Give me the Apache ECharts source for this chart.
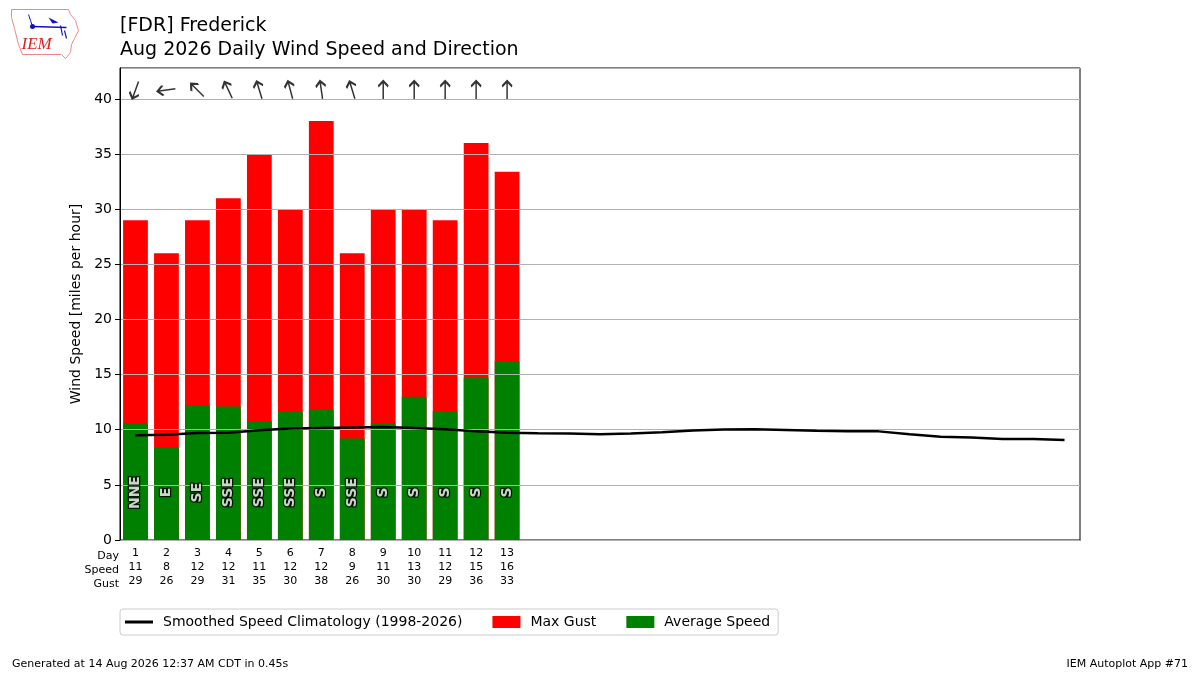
<!DOCTYPE html>
<html>
<head>
<meta charset="utf-8">
<script src="https://cdn.jsdelivr.net/npm/echarts@6/dist/echarts.min.js"></script>
<style>
  html, body { margin: 0; padding: 0; background: #fff; }
  #main { width: 1200px; height: 675px; }
</style>
</head>
<body>
<div id="main"></div>
<script>
// daily obs for Aug 2026 (days 1..13 so far)
var days = [];
for (var d = 1; d <= 31; d++) days.push(d);
var avgSpeed = [10.6, 8.4, 12.2, 12.1, 10.8, 11.6, 11.8, 9.2, 10.6, 13.0, 11.7, 14.7, 16.2];
var maxGust = [29, 26, 29, 31, 35, 30, 38, 26, 30, 30, 29, 36, 33.4];
var speedLbl = [11, 8, 12, 12, 11, 12, 12, 9, 11, 13, 12, 15, 16];
var gustLbl = [29, 26, 29, 31, 35, 30, 38, 26, 30, 30, 29, 36, 33];
var dirDeg = [20, 82, 135, 155, 163, 165, 172, 163, 180, 180, 180, 180, 180];
var dirText = ['NNE', 'E', 'SE', 'SSE', 'SSE', 'SSE', 'S', 'SSE', 'S', 'S', 'S', 'S', 'S'];
// smoothed climatology, one value per day of month
var climo = [9.5, 9.55, 9.7, 9.73, 9.95, 10.1, 10.15, 10.2, 10.25, 10.15, 10.05, 9.85, 9.73,
  9.68, 9.65, 9.6, 9.65, 9.78, 9.92, 10.02, 10.05, 9.98, 9.9, 9.86, 9.85,
  9.6, 9.37, 9.3, 9.16, 9.16, 9.07];

var arrowY = 40.8;
var labelY = 4.3;
var font = 'DejaVu Sans';

var chart = echarts.init(document.getElementById('main'));

var xLabels = days.map(function (d, i) {
  if (i >= speedLbl.length) return '';
  return d + '\n' + speedLbl[i] + '\n' + gustLbl[i];
});

var climoName = 'Smoothed Speed Climatology (1998-2026)';

var option = {
  backgroundColor: '#ffffff',
  animation: false,
  textStyle: { fontFamily: font },
  title: {
    text: '[FDR] Frederick\nAug 2026 Daily Wind Speed and Direction',
    left: 115,
    top: 9,
    textStyle: { fontSize: 19, fontWeight: 'normal', color: '#000', lineHeight: 24, fontFamily: font }
  },
  grid: {
    left: 120, right: 120, top: 68, bottom: 135,
    show: true, borderColor: '#000', borderWidth: 1
  },
  legend: {
    left: 120,
    top: 609,
    data: [
      { name: climoName, icon: 'path://M0,0 L28,0 L28,3 L0,3 Z' },
      { name: 'Max Gust', icon: 'rect' },
      { name: 'Average Speed', icon: 'rect' }
    ],
    itemWidth: 28,
    itemHeight: 12,
    itemGap: 30,
    borderColor: '#ccc',
    borderWidth: 1,
    borderRadius: 3,
    padding: [6, 8, 6, 5],
    textStyle: { fontSize: 14, color: '#000', fontFamily: font, padding: [0, 0, 0, 5] }
  },
  xAxis: {
    type: 'category',
    data: xLabels,
    boundaryGap: true,
    axisLine: { lineStyle: { color: '#000' } },
    axisTick: {
      alignWithLabel: true,
      interval: function (i) { return i < speedLbl.length; },
      lineStyle: { color: '#000' }
    },
    axisLabel: { interval: 0, fontSize: 11, lineHeight: 14, color: '#000', margin: 6 },
    splitLine: { show: false }
  },
  yAxis: {
    type: 'value',
    min: 0,
    max: 42.8,
    interval: 5,
    z: 4,
    name: 'Wind Speed [miles per hour]',
    nameLocation: 'middle',
    nameGap: 20,
    nameTextStyle: { fontSize: 14, color: '#000' },
    axisLine: { show: true, lineStyle: { color: '#000' } },
    axisTick: { show: true, lineStyle: { color: '#000' } },
    axisLabel: { fontSize: 14, color: '#000', showMaxLabel: false },
    splitLine: { lineStyle: { color: '#b0b0b0' } }
  },
  graphic: [
    {
      type: 'text', right: 1081, top: 549,
      style: { text: 'Day\nSpeed\nGust', fontSize: 11, lineHeight: 14, fill: '#000', textAlign: 'right', fontFamily: font }
    },
    {
      type: 'text', left: 12, top: 659,
      style: { text: 'Generated at 14 Aug 2026 12:37 AM CDT in 0.45s', fontSize: 11, fill: '#000', fontFamily: font }
    },
    {
      type: 'text', right: 12, top: 659,
      style: { text: 'IEM Autoplot App #71', fontSize: 11, fill: '#000', fontFamily: font }
    },
    // rough IEM logo
    {
      type: 'group', left: 9, top: 7,
      children: [
        { type: 'polyline', shape: { points: [[1, 1], [58, 1], [60, 6], [65, 12], [68, 22], [64, 30], [61, 36], [60, 44], [55, 50], [51, 46], [12, 46], [8, 36], [4, 20], [1, 9], [1, 1]] },
          style: { stroke: '#e88', lineWidth: 1, fill: 'none' } },
        { type: 'line', shape: { x1: 22, y1: 18, x2: 56, y2: 19 }, style: { stroke: '#11c', lineWidth: 1.5 } },
        { type: 'circle', shape: { cx: 22, cy: 18, r: 2.5 }, style: { fill: '#11c' } },
        { type: 'polyline', shape: { points: [[18, 6], [20, 12], [22, 18]] }, style: { stroke: '#11c', lineWidth: 1, fill: 'none' } },
        { type: 'polygon', shape: { points: [[38, 9], [48, 14], [42, 15]] }, style: { fill: '#11c' } },
        { type: 'line', shape: { x1: 50, y1: 17, x2: 52, y2: 27 }, style: { stroke: '#11c', lineWidth: 1.2 } },
        { type: 'line', shape: { x1: 54, y1: 22, x2: 56, y2: 30 }, style: { stroke: '#11c', lineWidth: 1.2 } },
        { type: 'text', left: 11, top: 28, style: { text: 'IEM', fontSize: 17, fontStyle: 'italic', fontFamily: 'Liberation Serif', fill: '#d22' } }
      ]
    }
  ],
  series: [
    {
      name: 'Max Gust',
      type: 'bar',
      data: maxGust,
      barWidth: '80%',
      barGap: '-100%',
      itemStyle: { color: '#ff0000' }
    },
    {
      name: 'Average Speed',
      type: 'bar',
      data: avgSpeed,
      barWidth: '80%',
      itemStyle: { color: '#008000' }
    },
    {
      name: climoName,
      type: 'line',
      data: climo,
      symbol: 'none',
      lineStyle: { color: '#000', width: 2.5 },
      itemStyle: { color: '#000' },
      z: 10
    },
    {
      name: 'arrows',
      type: 'scatter',
      data: dirDeg.map(function (deg, i) {
        return { value: [i, arrowY], symbolRotate: 180 - deg };
      }),
      symbol: 'path://M5,20 L5,0 M0,6 L5,0 L10,6',
      symbolSize: [10, 18],
      itemStyle: { color: 'none', borderColor: '#000', borderWidth: 2 },
      z: 10
    },
    {
      name: 'dirs',
      type: 'scatter',
      data: dirText.map(function (t, i) { return { value: [i, labelY], name: t }; }),
      symbolSize: 1,
      itemStyle: { color: 'transparent' },
      label: {
        show: true,
        position: 'inside',
        rotate: 90,
        formatter: function (p) { return p.name; },
        fontSize: 14,
        fontWeight: 'bold',
        color: '#ffffff',
        textBorderColor: '#000000',
        textBorderWidth: 2.5
      },
      z: 12
    }
  ]
};

chart.setOption(option);
</script>
</body>
</html>
